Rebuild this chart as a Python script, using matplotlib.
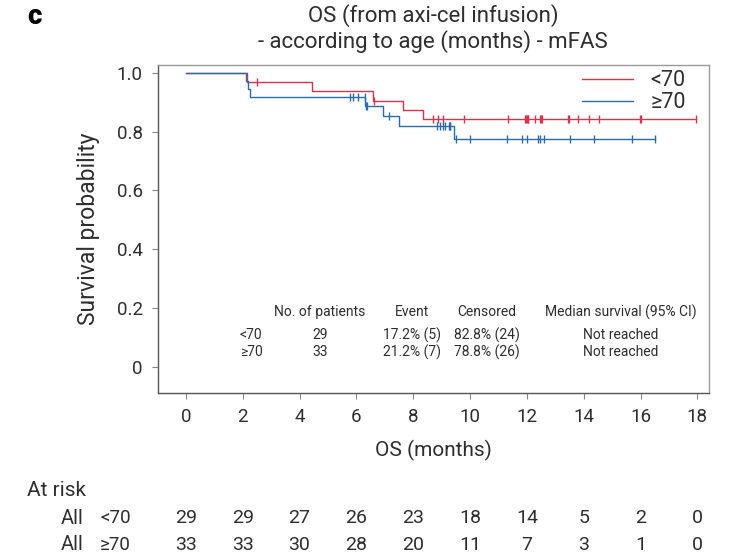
import numpy as np
import matplotlib
matplotlib.use("Agg")
import matplotlib.pyplot as plt
from matplotlib.transforms import blended_transform_factory

plt.rcParams['font.family'] = ['Roboto', 'DejaVu Sans']

# step curves (event times in months, survival after each step)
red_times = [0, 2.17, 4.43, 6.58, 7.65, 8.33, 17.94]
red_surv = [1.0, 0.968, 0.936, 0.905, 0.873, 0.842, 0.842]
blue_times = [0, 2.12, 2.20, 2.26, 6.31, 6.93, 7.51, 9.44, 16.52]
blue_surv = [1.0, 0.970, 0.945, 0.917, 0.885, 0.852, 0.820, 0.773, 0.773]

red_cens = [2.49, 6.62, 8.71, 8.88, 9.06, 9.80, 11.35, 11.93, 11.97, 11.99,
            12.03, 12.05, 12.29, 12.46, 12.51, 12.53, 13.46, 13.48, 13.81,
            14.19, 14.55, 15.97, 16.0, 17.94]
blue_cens = [5.78, 5.87, 6.07, 6.29, 6.34, 6.36, 7.16, 8.85, 8.94, 9.04, 9.12,
             9.26, 9.28, 9.30, 9.50, 10.01, 11.31, 11.82, 11.99, 12.38, 12.46,
             12.60, 13.52, 14.36, 15.71, 16.52]

groups = ["<70", "≥70"]
risk_times = [0, 2, 4, 6, 8, 10, 12, 14, 16, 18]
risk_lt70 = [29, 29, 27, 26, 23, 18, 14, 5, 2, 0]
risk_ge70 = [33, 33, 30, 28, 20, 11, 7, 3, 1, 0]

tab_header = ["No. of patients", "Event", "Censored", "Median survival (95% CI)"]
tab_n = ["29", "33"]
tab_event = ["17.2% (5)", "21.2% (7)"]
tab_cens = ["82.8% (24)", "78.8% (26)"]
tab_median = ["Not reached", "Not reached"]

red = "#d8344b"
blue = "#2b6cab"
txt = "#2e2e2e"

fig = plt.figure(figsize=(7.29, 5.55), dpi=100)
ax = fig.add_axes([0.2167, 0.2926, 0.7559, 0.5904])


def cens_y(times, surv, c):
    idx = np.searchsorted(times, c, side='right') - 1
    return np.array(surv)[idx]


for times, surv, cens, col, lab in [(red_times, red_surv, red_cens, red, groups[0]),
                                    (blue_times, blue_surv, blue_cens, blue, groups[1])]:
    ax.step(times, surv, where='post', color=col, lw=1.0, label=lab)
    ax.plot(cens, cens_y(times, surv, cens), ls='none', marker='|',
            ms=6, mew=1.0, color=col)

ax.set_xlim(-0.98, 18.41)
ax.set_ylim(-0.086, 1.026)
ax.set_xticks(risk_times)
ax.set_yticks([0, 0.2, 0.4, 0.6, 0.8, 1.0])
ax.set_yticklabels(["0", "0.2", "0.4", "0.6", "0.8", "1.0"])
ax.tick_params(direction='out', length=4, width=0.8, color='#888888',
               labelsize=13.5, labelcolor=txt, pad=7)
for s in ['left', 'bottom']:
    ax.spines[s].set_color('#555555')
for s in ['top', 'right']:
    ax.spines[s].set_color('#999999')
for s in ax.spines.values():
    s.set_linewidth(1.0)

ax.set_xlabel("OS (months)", fontsize=15, color=txt, labelpad=10)
ax.set_ylabel("Survival probability", fontsize=16.5, color=txt, labelpad=12)

leg = ax.legend(loc='upper right', frameon=False, fontsize=15.5, handlelength=2.4,
                handletextpad=0.8, labelspacing=0.05, borderaxespad=0.0,
                borderpad=0.1, labelcolor=txt, bbox_to_anchor=(0.962, 0.99))

# summary table inside the plot
col_x = [320 / 729, 412 / 729, 487 / 729, 621 / 729]
for x, h in zip(col_x, tab_header):
    fig.text(x, 1 - 312 / 555, h, ha='center', va='center', fontsize=10, color=txt)
for i, g in enumerate(groups):
    y = 1 - (335 + 17 * i) / 555
    fig.text(240 / 729, y, g, ha='left', va='center', fontsize=10, color=txt)
    for x, v in zip(col_x, [tab_n[i], tab_event[i], tab_cens[i], tab_median[i]]):
        fig.text(x, y, v, ha='center', va='center', fontsize=10, color=txt)

# title and panel label
fig.text(433 / 729, 1 - 16 / 555, "OS (from axi-cel infusion)", ha='center',
         va='center', fontsize=16, color=txt)
fig.text(433 / 729, 1 - 42 / 555, "- according to age (months) - mFAS", ha='center',
         va='center', fontsize=16, color=txt)
fig.text(27 / 729, 1 - 17 / 555, "c", ha='left', va='center', fontsize=20,
         fontweight='heavy', color='black')

# number at risk
bt = blended_transform_factory(ax.transData, fig.transFigure)
fig.text(27 / 729, 1 - 490 / 555, "At risk", ha='left', va='center', fontsize=15, color=txt)
for i, (g, row) in enumerate(zip(groups, [risk_lt70, risk_ge70])):
    y = 1 - (518 + 27 * i) / 555
    fig.text(84 / 729, y, "All", ha='right', va='center', fontsize=14.5, color=txt)
    fig.text(100 / 729, y, g, ha='left', va='center', fontsize=13.5, color=txt)
    for t, n in zip(risk_times, row):
        ax.text(t, y, str(n), transform=bt, ha='center', va='center',
                fontsize=14, color=txt, clip_on=False)

fig.savefig("out.png", dpi=100)
